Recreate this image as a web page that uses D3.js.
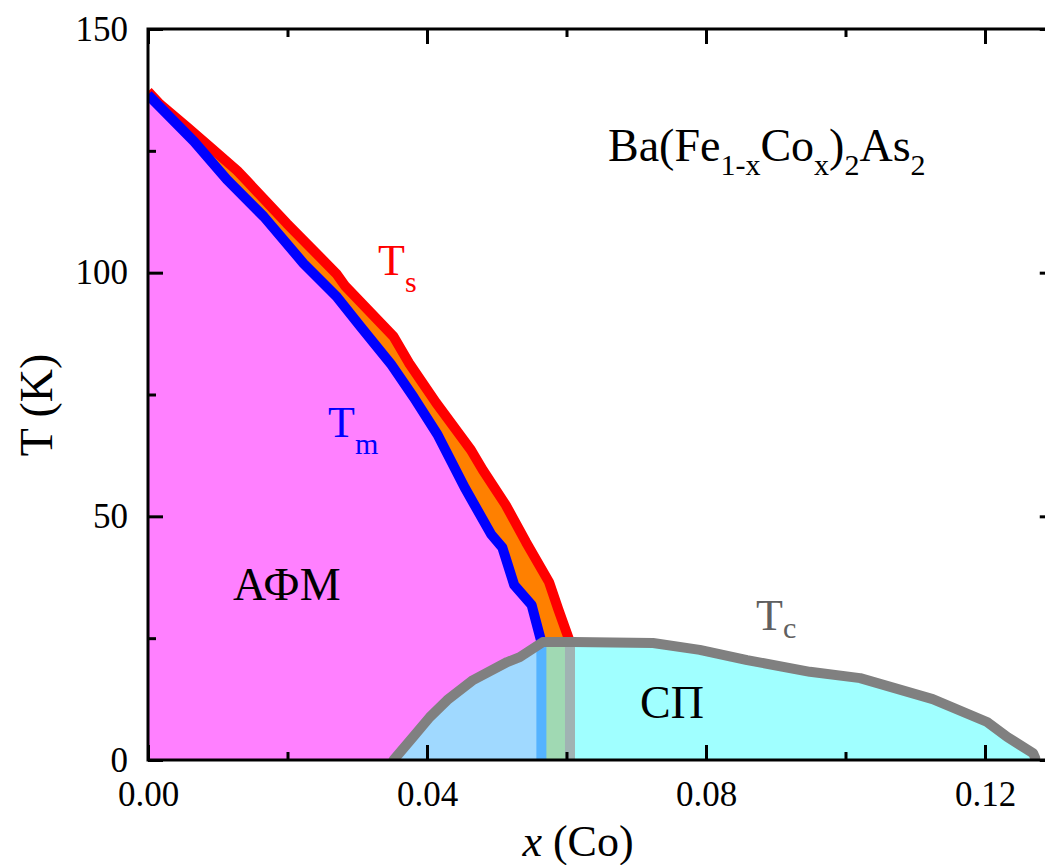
<!DOCTYPE html>
<html><head><meta charset="utf-8"><script src="https://cdn.jsdelivr.net/npm/d3@7"></script></head>
<body style="margin:0">
<svg id="chart" width="1045" height="865" style="display:block"></svg>
<script>
// Ba(Fe1-xCox)2As2 phase diagram: structural (Ts), magnetic (Tm) and superconducting (Tc) boundaries

// Ts: tetragonal-orthorhombic transition (x, K)
const tsX = [0.0000, 0.0017, 0.0056, 0.0089, 0.0128, 0.0142, 0.0199, 0.0270, 0.0283, 0.0352, 0.0374, 0.0413, 0.0463, 0.0480, 0.0513, 0.0542, 0.0575, 0.0588, 0.0605, 0.0605];
const tsT = [137.2, 134.6, 129.9, 125.8, 120.9, 118.8, 110.1, 99.8, 97.2, 86.9, 81.5, 73.3, 63.6, 59.5, 52.3, 44.7, 36.5, 31.0, 24.2, 0];

// Tm: antiferromagnetic ordering (x, K)
const tmX = [0.0000, 0.0066, 0.0113, 0.0166, 0.0223, 0.0271, 0.0305, 0.0348, 0.0381, 0.0415, 0.0454, 0.0492, 0.0508, 0.0525, 0.0550, 0.0564, 0.0564];
const tmT = [136.5, 126.9, 119.1, 111.5, 101.9, 95.0, 88.9, 81.3, 74.4, 66.8, 55.9, 46.3, 43.6, 35.9, 31.8, 24.2, 0];

// Tc: superconducting dome (x, K)
const tcX = [0.0352, 0.0380, 0.0404, 0.0429, 0.0466, 0.0515, 0.0533, 0.0566, 0.0609, 0.0724, 0.0791, 0.0859, 0.0949, 0.1021, 0.1125, 0.1203, 0.1232, 0.1269, 0.1272];
const tcT = [0, 4.7, 8.8, 12.3, 16.4, 20.1, 21.1, 24.2, 24.2, 24.0, 22.6, 20.5, 18.1, 16.8, 12.5, 7.8, 4.7, 1.4, 0.4];

// Axis ticks
const xMajorTicks = [0.00, 0.04, 0.08, 0.12];
const xMinorTicks = [0.02, 0.06, 0.10];
const yMajorTicks = [0, 50, 100, 150];
const yMinorTicks = [25, 75, 125];

const FONT = '"Liberation Serif"';

const svg = d3.select("#chart");
const pLeft = 148, pRight = 1054.75, pTop = 29, pBottom = 760;

const x = d3.scaleLinear().domain([0, 0.13]).range([pLeft, pRight]);
const y = d3.scaleLinear().domain([0, 150]).range([pBottom, pTop]);

const zip = (xs, ts) => xs.map((v, i) => ({ x: v, t: ts[i] }));
const tsData = zip(tsX, tsT), tmData = zip(tmX, tmT), tcData = zip(tcX, tcT);

svg.append("defs").append("clipPath").attr("id", "plotClip")
  .append("rect").attr("x", pLeft).attr("y", pTop)
  .attr("width", pRight - pLeft).attr("height", pBottom - pTop);

const plot = svg.append("g").attr("clip-path", "url(#plotClip)");

const area = d3.area().x(d => x(d.x)).y0(y(0)).y1(d => y(d.t));
const line = d3.line().x(d => x(d.x)).y(d => y(d.t));

// orthorhombic paramagnetic sliver between Tm and Ts
plot.append("path").datum(tsData).attr("d", area).attr("fill", "#ff8000");
// antiferromagnetic region under Tm
plot.append("path").datum(tmData).attr("d", area).attr("fill", "#ff80ff");

plot.append("path").datum(tsData).attr("d", line)
  .attr("fill", "none").attr("stroke", "#ff0000").attr("stroke-width", 10)
  .attr("stroke-linejoin", "round");
plot.append("path").datum(tmData).attr("d", line)
  .attr("fill", "none").attr("stroke", "#0000ff").attr("stroke-width", 10)
  .attr("stroke-linejoin", "round");

// superconducting dome
plot.append("path").datum(tcData).attr("d", area)
  .attr("fill", "rgb(120,255,255)").attr("fill-opacity", 0.7);
plot.append("path").datum(tcData).attr("d", line)
  .attr("fill", "none").attr("stroke", "#808080").attr("stroke-width", 10)
  .attr("stroke-linejoin", "round").attr("stroke-linecap", "round");

// Axes with inward ticks on all four sides
function styleAxis(g) {
  g.attr("font-family", null).attr("font-size", null);
  g.select(".domain").remove();
  g.selectAll(".tick line").attr("stroke", "#000").attr("stroke-width", 3);
  g.selectAll("text").attr("fill", "#000").attr("font-size", 35)
    .style("font-family", FONT);
}

const gx = svg.append("g").attr("transform", `translate(0,${pBottom})`)
  .call(d3.axisBottom(x).tickValues(xMajorTicks).tickSize(-15).tickSizeOuter(0)
    .tickFormat(d3.format(".2f")));
styleAxis(gx);
gx.selectAll("text").attr("y", 46).attr("dy", null);

svg.append("g").attr("transform", `translate(0,${pBottom})`)
  .call(d3.axisBottom(x).tickValues(xMinorTicks).tickSize(-8).tickSizeOuter(0).tickFormat(""))
  .call(styleAxis);
svg.append("g").attr("transform", `translate(0,${pTop})`)
  .call(d3.axisTop(x).tickValues(xMajorTicks).tickSize(-15).tickSizeOuter(0).tickFormat(""))
  .call(styleAxis);
svg.append("g").attr("transform", `translate(0,${pTop})`)
  .call(d3.axisTop(x).tickValues(xMinorTicks).tickSize(-8).tickSizeOuter(0).tickFormat(""))
  .call(styleAxis);

const gy = svg.append("g").attr("transform", `translate(${pLeft},0)`)
  .call(d3.axisLeft(y).tickValues(yMajorTicks).tickSize(-15).tickSizeOuter(0)
    .tickPadding(20).tickFormat(d3.format("d")));
styleAxis(gy);
svg.append("g").attr("transform", `translate(${pLeft},0)`)
  .call(d3.axisLeft(y).tickValues(yMinorTicks).tickSize(-8).tickSizeOuter(0).tickFormat(""))
  .call(styleAxis);
svg.append("g").attr("transform", `translate(${pRight},0)`)
  .call(d3.axisRight(y).tickValues(yMajorTicks).tickSize(-15).tickSizeOuter(0).tickFormat(""))
  .call(styleAxis);
svg.append("g").attr("transform", `translate(${pRight},0)`)
  .call(d3.axisRight(y).tickValues(yMinorTicks).tickSize(-8).tickSizeOuter(0).tickFormat(""))
  .call(styleAxis);

// plot frame
svg.append("rect").attr("x", pLeft).attr("y", pTop)
  .attr("width", pRight - pLeft).attr("height", pBottom - pTop)
  .attr("fill", "none").attr("stroke", "#000").attr("stroke-width", 3);

// Annotation text
function txt(px, py, size, color) {
  return svg.append("text").attr("x", px).attr("y", py).attr("fill", color)
    .attr("font-size", size).style("font-family", FONT);
}

// Axis titles
svg.append("text")
  .attr("transform", "translate(52,405) rotate(-90)")
  .attr("text-anchor", "middle").attr("fill", "#000")
  .attr("font-size", 46).style("font-family", FONT)
  .text("T (K)");

const xTitle = txt(578, 856, 44, "#000").attr("text-anchor", "middle");
xTitle.append("tspan").attr("font-style", "italic").text("x");
xTitle.append("tspan").text(" (Co)");

// Labels with subscripts
function subLabel(px, py, main, sub, color, size, subSize, drop) {
  const t = txt(px, py, size, color);
  t.append("tspan").text(main);
  t.append("tspan").attr("dy", drop).attr("font-size", subSize).text(sub);
  return t;
}
subLabel(378, 275, "T", "s", "#ff0000", 44, 30, 17);
subLabel(328, 437, "T", "m", "#0000ff", 44, 30, 17);
subLabel(756, 630, "T", "c", "#606060", 44, 30, 8);

txt(233, 600, 46, "#000").text("АФМ");
txt(640, 718, 46, "#000").text("СП");

// compound formula
const f = txt(608, 161, 46, "#000");
const parts = [["Ba(Fe", false], ["1-x", true], ["Co", false], ["x", true], [")", false], ["2", true], ["As", false], ["2", true]];
let lowered = false;
parts.forEach(([s, isSub]) => {
  const sp = f.append("tspan").text(s);
  if (isSub) { sp.attr("font-size", 30); if (!lowered) { sp.attr("dy", 14); lowered = true; } }
  else if (lowered) { sp.attr("dy", -14); lowered = false; }
});
</script>
</body>
</html>
